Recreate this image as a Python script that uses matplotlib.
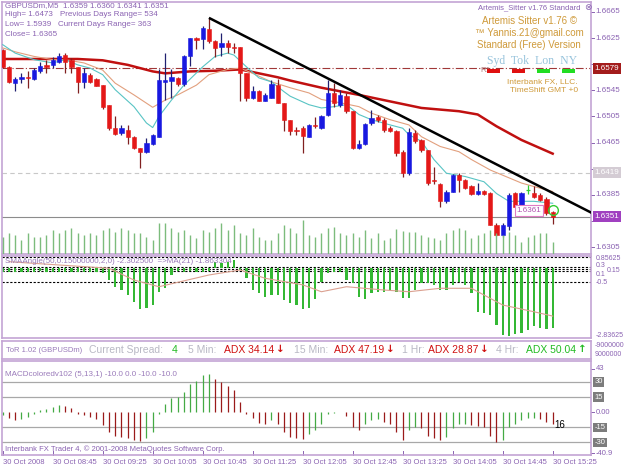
import numpy as np
import matplotlib.pyplot as plt
from matplotlib.patches import Rectangle

plt.rcParams['font.family'] = ['Liberation Sans', 'DejaVu Sans']

W, H = 625, 469

# GBPUSDm M5, 30 Oct 2008 08:05 .. 15:25 (89 bars)
opens = [1.6607, 1.6581, 1.6556, 1.6562, 1.6565, 1.6562, 1.6574, 1.6584, 1.6584, 1.6589,
         1.6599, 1.6591, 1.6580, 1.6558, 1.6569, 1.6562, 1.6553, 1.6523, 1.6488, 1.6479,
         1.6485, 1.6474, 1.6456, 1.6450, 1.6463, 1.6474, 1.6558, 1.6560, 1.6564, 1.6555,
         1.6598, 1.6625, 1.6623, 1.6639, 1.6621, 1.6611, 1.6618, 1.6612, 1.6611, 1.6571,
         1.6533, 1.6544, 1.6529, 1.6534, 1.6553, 1.6525, 1.6499, 1.6484, 1.6487, 1.6474,
         1.6492, 1.6487, 1.6507, 1.6541, 1.6523, 1.6537, 1.6513, 1.6457, 1.6463, 1.6495,
         1.6504, 1.6500, 1.6487, 1.6482, 1.6451, 1.6418, 1.6480, 1.6469, 1.6454, 1.6408,
         1.6402, 1.6375, 1.6390, 1.6416, 1.6407, 1.6398, 1.6386, 1.6391, 1.6388, 1.6339,
         1.6323, 1.6337, 1.6387, 1.6367, 1.6393, 1.6388, 1.6385, 1.6378, 1.6359]
highs = [1.6608, 1.6582, 1.6566, 1.6571, 1.6574, 1.6579, 1.6589, 1.6592, 1.6596, 1.6602,
         1.6602, 1.6594, 1.6581, 1.6579, 1.6571, 1.6564, 1.6553, 1.6523, 1.6506, 1.6492,
         1.6492, 1.6475, 1.6457, 1.6472, 1.6478, 1.6577, 1.6602, 1.6577, 1.6566, 1.6599,
         1.6625, 1.6626, 1.6643, 1.6656, 1.6622, 1.6633, 1.6622, 1.6618, 1.6611, 1.6571,
         1.6551, 1.6546, 1.6541, 1.6561, 1.6562, 1.6525, 1.6499, 1.6489, 1.6490, 1.6494,
         1.6504, 1.6507, 1.6561, 1.6556, 1.6545, 1.6541, 1.6513, 1.6469, 1.6495, 1.6515,
         1.6507, 1.6503, 1.6490, 1.6485, 1.6454, 1.6487, 1.6485, 1.6470, 1.6454, 1.6428,
         1.6403, 1.6393, 1.6417, 1.6418, 1.6409, 1.6400, 1.6403, 1.6393, 1.6389, 1.6342,
         1.6342, 1.6387, 1.6390, 1.6389, 1.6400, 1.6398, 1.6387, 1.6382, 1.6360]
lows = [1.6579, 1.6556, 1.6544, 1.6556, 1.6548, 1.6561, 1.6571, 1.6571, 1.6579, 1.6587,
        1.6571, 1.6572, 1.6541, 1.6548, 1.6556, 1.6551, 1.6516, 1.6485, 1.6477, 1.6477,
        1.6463, 1.6455, 1.6426, 1.6449, 1.6461, 1.6474, 1.6530, 1.6534, 1.6552, 1.6551,
        1.6582, 1.6608, 1.6608, 1.6618, 1.6596, 1.6597, 1.6602, 1.6602, 1.6528, 1.6528,
        1.6531, 1.6528, 1.6528, 1.6533, 1.6525, 1.6482, 1.6477, 1.6477, 1.6449, 1.6473,
        1.6487, 1.6486, 1.6505, 1.6520, 1.6520, 1.6510, 1.6455, 1.6455, 1.6462, 1.6492,
        1.6497, 1.6481, 1.6481, 1.6444, 1.6412, 1.6416, 1.6464, 1.6451, 1.6400, 1.6402,
        1.6367, 1.6372, 1.6389, 1.6390, 1.6394, 1.6385, 1.6385, 1.6385, 1.6339, 1.6322,
        1.6321, 1.6331, 1.6366, 1.6366, 1.6386, 1.6380, 1.6376, 1.6354, 1.6341]
closes = [1.6581, 1.6558, 1.6562, 1.6565, 1.6564, 1.6576, 1.6582, 1.6581, 1.6591, 1.6598,
          1.6589, 1.6581, 1.6558, 1.6571, 1.6558, 1.6552, 1.6520, 1.6488, 1.6478, 1.6487,
          1.6473, 1.6456, 1.6450, 1.6465, 1.6477, 1.6561, 1.6561, 1.6565, 1.6555, 1.6597,
          1.6625, 1.6622, 1.6640, 1.6620, 1.6610, 1.6618, 1.6611, 1.6610, 1.6571, 1.6533,
          1.6544, 1.6529, 1.6538, 1.6554, 1.6526, 1.6499, 1.6482, 1.6483, 1.6475, 1.6492,
          1.6490, 1.6505, 1.6541, 1.6526, 1.6538, 1.6513, 1.6457, 1.6463, 1.6494, 1.6503,
          1.6500, 1.6484, 1.6482, 1.6449, 1.6418, 1.6481, 1.6467, 1.6454, 1.6403, 1.6406,
          1.6375, 1.6390, 1.6416, 1.6408, 1.6395, 1.6386, 1.6391, 1.6386, 1.6339, 1.6324,
          1.6339, 1.6385, 1.6367, 1.6388, 1.6393, 1.6381, 1.6377, 1.6357, 1.6351]
volumes = [52, 62, 57, 42, 62, 52, 52, 57, 72, 62, 72, 77, 62, 57, 62, 57, 72, 77, 67, 77,
           72, 62, 62, 52, 42, 92, 92, 77, 67, 72, 57, 47, 72, 67, 77, 92, 72, 87, 62, 57,
           77, 52, 42, 42, 62, 87, 77, 62, 102, 57, 52, 62, 77, 82, 62, 57, 62, 52, 72, 47,
           62, 42, 47, 74, 70, 67, 67, 57, 52, 47, 42, 62, 72, 77, 72, 47, 57, 62, 72, 62,
           57, 67, 57, 37, 52, 57, 62, 62, 37]

# moving averages (bar index, price)
slow_ma_x = [0, 6, 12, 16, 20, 24, 26, 30, 34, 38, 40, 44, 46, 51, 57, 62, 67, 73, 76, 79, 83, 88]
slow_ma_y = [1.6593, 1.6593, 1.6593, 1.6591, 1.6584, 1.6574, 1.6571, 1.6574, 1.6575, 1.6577,
             1.6573, 1.6565, 1.6560, 1.6549, 1.6538, 1.6528, 1.6518, 1.6513, 1.6508, 1.6490,
             1.6469, 1.6448]
fast_ma_x = [0, 2, 5, 8, 10, 12, 14, 16, 18, 21, 23, 24, 25, 27, 29, 32, 34, 36, 37, 39,
             41, 43, 45, 46, 49, 51, 53, 55, 57, 59, 62, 64, 65, 67, 69, 71, 74, 77, 79, 81,
             83, 85, 88]
fast_ma_y = [1.6615, 1.6602, 1.6592, 1.6587, 1.6592, 1.6584, 1.6579, 1.6569, 1.6546, 1.6520,
             1.6495, 1.6488, 1.6505, 1.6530, 1.6553, 1.6581, 1.6597, 1.6602, 1.6599, 1.6581,
             1.6564, 1.6558, 1.6543, 1.6536, 1.6523, 1.6518, 1.6520, 1.6523, 1.6508, 1.6500,
             1.6492, 1.6487, 1.6477, 1.6467, 1.6439, 1.6418, 1.6413, 1.6405, 1.6387, 1.6375,
             1.6375, 1.6375, 1.6372]
mid_ma_x = [0, 2, 5, 8, 10, 13, 16, 18, 21, 24, 26, 28, 31, 33, 36, 38, 40, 43, 46, 49,
            51, 54, 57, 59, 62, 65, 67, 70, 73, 75, 78, 81, 83, 86, 88]
mid_ma_y = [1.6610, 1.6604, 1.6597, 1.6592, 1.6592, 1.6587, 1.6576, 1.6556, 1.6538, 1.6519,
            1.6530, 1.6538, 1.6553, 1.6569, 1.6577, 1.6579, 1.6571, 1.6558, 1.6549, 1.6541,
            1.6531, 1.6526, 1.6520, 1.6510, 1.6500, 1.6492, 1.6474, 1.6459, 1.6451, 1.6439,
            1.6423, 1.6411, 1.6403, 1.6395, 1.6390]
trend_x = [33, 94.3]
trend_y = [1.6656, 1.6357]
r1_level, pivot_level, bid = 1.6579, 1.6419, 1.6351
price_ticks = [1.6665, 1.6625, 1.6585, 1.6545, 1.6505, 1.6465, 1.6425, 1.6385, 1.6345, 1.6305]
hidden_ticks = [1.6585, 1.6425, 1.6345]   # covered by the level boxes

# SMAAngle histogram and its MA(21)
angle = [0.12, 0.10, 0.08, 0.10, 0.12, 0.10, 0.14, 0.10, 0.12, 0.08, 0.10, 0.12, 0.10, 0.08,
         0.12, 0.10, 0.06, -0.37, -0.78, -0.95, -1.24, -1.65, -2.05, -2.00, -1.82, -1.07,
         -0.84, -0.08, 0.15, 0.12, 0.15, 0.10, 0.12, 0.15, 0.69, 0.60, 0.70, 0.79, 0.20,
         -0.26, -0.95, -1.13, -1.36, -1.24, -1.24, -1.53, -1.71, -1.82, -2.05, -2.00, -1.47,
         -0.49, 0.05, 0.10, 0.10, -0.37, -0.55, -1.36, -1.47, -1.13, -1.07, -1.07, -0.95,
         -1.07, -1.42, -1.42, -0.95, -0.55, -0.55, -0.66, -0.95, -0.95, -0.66, -0.49, -0.66,
         -1.13, -2.23, -2.29, -2.40, -2.98, -3.56, -3.62, -3.50, -3.45, -3.27, -3.04, -3.16,
         -3.21, -3.16]
angle_ma_x = [1, 17, 21, 25, 33, 38, 42, 48, 51, 55, 61, 65, 70, 75, 80, 85, 88]
angle_ma_y = [0.69, 0.31, -0.37, -0.76, -0.08, 0.21, -0.27, -0.65, -1.05, -0.76, -0.95,
              -1.05, -0.85, -0.85, -1.82, -2.21, -2.46]
angle_levels = [0.95, 0.40, 0.27, 0.15, -0.50]

# MACD(5,13,1)
macd = [-3, -6, -8, -7, -5, -2, 2, 3, 5, 7, 6, 4,
        -2, -3, -5, -7, -13, -20, -24, -25, -26, -28, -29, -26, -20,
        -2, 8, 14, 15, 20, 28, 31, 37, 38, 33, 30, 26, 22,
        10, -2, -6, -11, -12, -8, -12, -20, -25, -26, -27,
        -22, -18, -12, -2, -1, 0, -4,
        -15, -18, -12, -8, -7, -10, -12, -20, -28,
        -18, -15, -16, -24, -26, -28, -25, -16, -12, -12, -13,
        -14, -15, -24, -30, -28, -15, -12, -8, -6, -6, -7, -10, -12]
macd_levels = [30, 15, -15, -30]

time_labels = ['30 Oct 2008', '30 Oct 08:45', '30 Oct 09:25', '30 Oct 10:05', '30 Oct 10:45',
               '30 Oct 11:25', '30 Oct 12:05', '30 Oct 12:45', '30 Oct 13:25', '30 Oct 14:05',
               '30 Oct 14:45', '30 Oct 15:25']

FRAME = '#c4a4d4'
LBL = '#8a62b2'
ORANGE = '#cf9a3a'

fig = plt.figure(figsize=(6.25, 4.69), dpi=100)
fig.patch.set_facecolor('white')


def px_axes(x0, y0, x1, y1):
    a = fig.add_axes([x0 / W, 1 - y1 / H, (x1 - x0) / W, (y1 - y0) / H])
    a.set_xticks([])
    a.set_yticks([])
    for s in a.spines.values():
        s.set_color(FRAME)
        s.set_linewidth(1.2)
    a.set_xlim(-0.11, 94.13)
    return a


def ftext(x, y, s, **kw):
    kw.setdefault('va', 'center')
    kw.setdefault('fontsize', 5.8)
    kw.setdefault('color', LBL)
    fig.text(x / W, 1 - y / H, s, **kw)


def rtick(a, v):
    a.plot([1.0, 1.005], [v, v], transform=a.get_yaxis_transform(), color=LBL,
           lw=0.7, clip_on=False)


def rlabel(a, v, s, **kw):
    kw.setdefault('fontsize', 5.8)
    kw.setdefault('color', LBL)
    a.text(1.008, v, s, transform=a.get_yaxis_transform(), va='center', clip_on=False, **kw)
    rtick(a, v)


idx = np.arange(len(closes))

# ---------------- main price window
ax = px_axes(2, 2, 591, 254)
ax.set_ylim(1.62943, 1.66803)

vax = ax.twinx()
vax.set_ylim(0, 756)
vax.set_yticks([])
for s in vax.spines.values():
    s.set_visible(False)
vax.vlines(idx, 0, volumes, color='#7cbc7c', lw=1.0)

ax.axhline(r1_level, color='#a03838', lw=0.8, ls=(0, (7, 2, 1, 2)), zorder=1)
ax.axhline(pivot_level, color='#c8c8c8', lw=0.8, ls=(0, (4, 3)), zorder=1)
ax.axhline(bid, color='#8c8c8c', lw=0.8, zorder=1)
ax.text(76.5, r1_level - 0.0003, 'R1', color='#b07878', fontsize=5.8, va='center', zorder=2)

ax.plot(slow_ma_x, slow_ma_y, color='#c01010', lw=1.8, zorder=3)
ax.plot(mid_ma_x, mid_ma_y, color='#e2a07e', lw=0.8, zorder=3)
ax.plot(fast_ma_x, fast_ma_y, color='#58c4c4', lw=0.8, zorder=3)

for i, (o, h, l, c) in enumerate(zip(opens, highs, lows, closes)):
    if c > o:
        body, wick = '#1818e0', '#202070'
    elif c < o:
        body, wick = '#e41818', '#802020'
    else:
        body, wick = '#33cc33', '#33cc33'
    ax.vlines(i, l, h, color=wick, lw=0.9, zorder=4)
    if c == o:
        ax.hlines(c, i - 0.35, i + 0.35, color=body, lw=0.9, zorder=4)
    else:
        ax.add_patch(Rectangle((i - 0.33, min(o, c)), 0.66, max(abs(c - o), 0.00007),
                               facecolor=body, edgecolor=body, lw=0.4, zorder=5))

ax.plot(trend_x, trend_y, color='black', lw=1.8, zorder=6, solid_capstyle='butt')
ax.plot(88, 1.6361, 'o', mfc='none', mec='#33cc33', ms=7, mew=1.0, zorder=7)
ax.text(84.2, 1.6361, '1.6361', color='#b050b0', fontsize=5.8, va='center', ha='center',
        zorder=7, bbox=dict(boxstyle='square,pad=0.2', fc='white', ec='#e07cc4', lw=0.8))

for p in price_ticks:
    if p in hidden_ticks:
        rtick(ax, p)
    else:
        rlabel(ax, p, f'{p:.4f}')
for p, bg in [(r1_level, '#a31c1c'), (pivot_level, '#d4ccd4'), (bid, '#a040c0')]:
    ax.text(1.006, p, f'{p:.4f}', transform=ax.get_yaxis_transform(), va='center',
            clip_on=False, fontsize=5.8, color='white',
            bbox=dict(boxstyle='square,pad=0.25', fc=bg, ec='none'))

# header texts
ftext(5, 6, 'GBPUSDm,M5  1.6359 1.6360 1.6341 1.6351')
ftext(5, 15, 'High= 1.6473')
ftext(60, 15, 'Previous Days Range= 534')
ftext(5, 25, 'Low= 1.5939')
ftext(58, 25, 'Current Days Range= 363')
ftext(5, 34, 'Close= 1.6365')

ftext(580, 8, 'Artemis_Sitter v1.76 Standard', ha='right', fontsize=5.5)
ftext(588, 8, '⊗', ha='center', fontsize=6.5)
ftext(530, 21, 'Artemis Sitter v1.76 ©', ha='center', color=ORANGE, fontsize=7)
ftext(529, 33, '™ Yannis.21@gmail.com', ha='center', color=ORANGE, fontsize=7)
ftext(529, 45, 'Standard (Free) Version', ha='center', color=ORANGE, fontsize=7)
ftext(532, 61, 'Syd  Tok  Lon  NY', ha='center', color='#98c4dc', fontsize=8.5,
      family='Liberation Serif')
for x0, col in [(487, '#e01010'), (512, '#e01010'), (537, '#22dd22'), (562, '#22dd22')]:
    fig.patches.append(Rectangle((x0 / W, 1 - 73 / H), 13 / W, 4 / H, transform=fig.transFigure,
                                 facecolor=col, edgecolor='none', zorder=10))
ftext(578, 82, 'Interbank FX, LLC.', ha='right', color=ORANGE, fontsize=6)
ftext(578, 90, 'TimeShift GMT +0', ha='right', color=ORANGE, fontsize=6)

# ---------------- SMAAngle window
ax2 = px_axes(2, 256, 591, 338)
ax2.set_ylim(-3.73, 1.02)
for lv in angle_levels:
    ax2.axhline(lv, color='black', lw=0.8, ls=(0, (2, 1.5)), zorder=1)
ax2.bar(idx, np.array(angle) - 0.3, bottom=0.3, width=0.36, color='#34b834', zorder=2)
ax2.plot(angle_ma_x, angle_ma_y, color='#dba090', lw=0.8, zorder=3)
ftext(5, 261, 'SMAAngle(50,0.15000000,2,0) -2.302500  =>MA(21) -1.863304', color='#9a7aba')
ftext(596, 258, '0.85625', fontsize=5)
ftext(596, 265, '0.3', fontsize=5)
ftext(607, 270, '0.15', fontsize=5)
ftext(596, 274, '0.1', fontsize=5)
ftext(596, 283, '-0.5', fontsize=5)
ftext(596, 335, '-2.83625', fontsize=5)

# ---------------- ToR window
ax3 = px_axes(2, 341, 591, 359)
ftext(6, 350, 'ToR 1.02 (GBPUSDm)', fontsize=5.5, color='#9a7aba')
ftext(89, 350, 'Current Spread:', fontsize=7.5, color='#b8b8c4')
ftext(172, 350, '4', fontsize=7.5, color='#22bb22')
for x0, lab, x1, val, x2, arr, col in [
        (188, '5 Min:', 224, 'ADX 34.14', 276, '↓', '#d01010'),
        (294, '15 Min:', 334, 'ADX 47.19', 386, '↓', '#d01010'),
        (402, '1 Hr:', 428, 'ADX 28.87', 480, '↓', '#d01010'),
        (496, '4 Hr:', 526, 'ADX 50.04', 578, '↑', '#22bb22')]:
    ftext(x0, 350, lab, fontsize=7.5, color='#b8b8c4')
    ftext(x1, 350, val, fontsize=7.5, color=col)
    ftext(x2, 349, arr, fontsize=7.5, color=col, fontweight='bold', family='DejaVu Sans')
ftext(595, 345, '-9000000', fontsize=5)
ftext(595, 355, '9000000', fontsize=5)

# ---------------- MACD window
ax4 = px_axes(2, 361, 591, 455)
ax4.set_ylim(-42.5, 50.7)
for lv in macd_levels:
    ax4.axhline(lv, color='#a8a8a8', lw=0.9, zorder=1)
mcol = ['#44aa44' if i == 0 or macd[i] >= macd[i - 1] else '#9a1a1a' for i in range(len(macd))]
ax4.vlines(idx, 0, macd, colors=mcol, lw=0.9, zorder=2)
ftext(5, 374, 'MACDcoloredv102 (5,13,1) -10.0 0.0 -10.0 -10.0', color='#9a7aba')
ax4.text(88.3, -13, '16', fontsize=7, color='black', va='center')
rlabel(ax4, 43, '43', fontsize=5.5)
rlabel(ax4, 0, '0.00', fontsize=5.5)
rlabel(ax4, -40.9, '-40.9', fontsize=5.5)
for lv in macd_levels:
    ax4.text(1.006, lv, f'{lv}', transform=ax4.get_yaxis_transform(), va='center',
             clip_on=False, fontsize=5.5, color='white',
             bbox=dict(boxstyle='square,pad=0.15', fc='#7c7c7c', ec='none'))
ftext(5, 449, 'Interbank FX Trader 4, © 2001-2008 MetaQuotes Software Corp.', fontsize=5.5)

for k, lab in enumerate(time_labels):
    b = 8 * k
    ax4.plot([b, b], [0, 0.04], transform=ax4.get_xaxis_transform(), color=LBL, lw=0.7,
             clip_on=False)
    ax4.text(b, -0.04, lab, transform=ax4.get_xaxis_transform(), fontsize=5.5, color=LBL,
             va='top', ha='left', clip_on=False)

fig.savefig('out.png', dpi=100)
